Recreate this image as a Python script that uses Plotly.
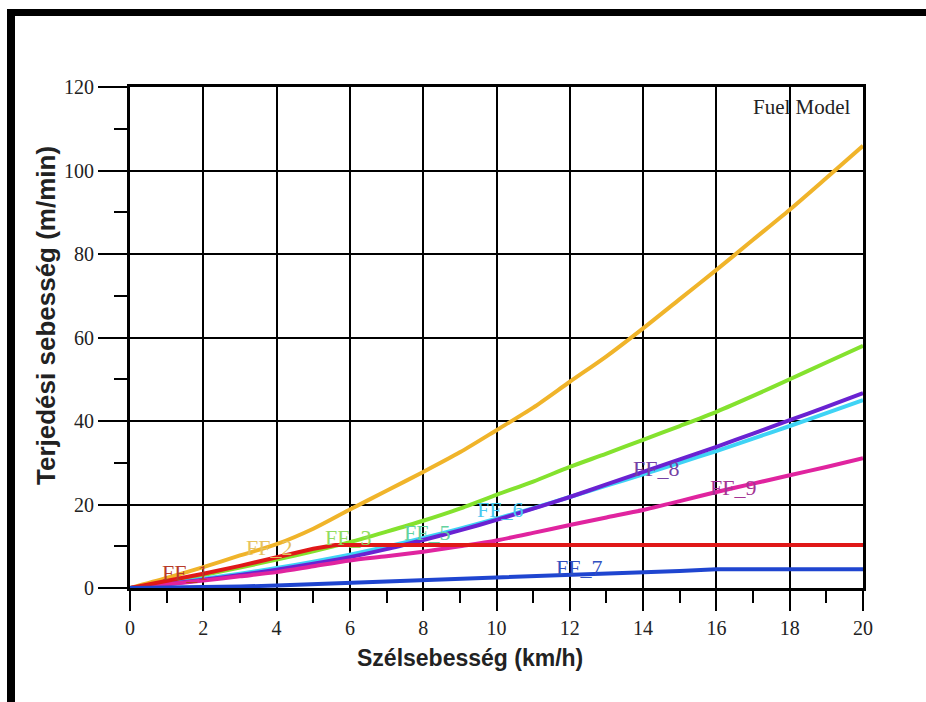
import plotly.graph_objects as go

# Wind speed (km/h) sample points
wind = list(range(0, 21))

# Spread rate (m/min) per fuel model
ff2 = [0, 2.4, 5.0, 7.8, 10.5, 14.2, 18.8, 23.3, 27.8, 32.5, 37.8, 43.2, 49.4,
       55.5, 62.2, 69.2, 76.2, 83.4, 90.6, 98.2, 105.9]
ff3 = [0, 1.4, 3.1, 4.9, 6.8, 8.8, 11.0, 13.5, 16.1, 19.0, 22.3, 25.5, 29.0,
       32.2, 35.5, 38.8, 42.2, 46.0, 50.0, 54.0, 58.0]
ff6 = [0, 1.0, 2.2, 3.4, 4.8, 6.3, 8.0, 9.9, 12.0, 14.2, 16.6, 19.1, 21.8,
       24.5, 27.2, 30.0, 32.8, 35.8, 38.8, 41.9, 45.0]
ff8 = [0, 0.9, 2.0, 3.1, 4.4, 5.8, 7.4, 9.3, 11.5, 13.8, 16.3, 19.0, 21.8,
       24.8, 27.8, 30.8, 33.8, 37.0, 40.2, 43.4, 46.7]
ff9 = [0, 0.9, 1.8, 2.8, 3.8, 5.2, 6.6, 7.6, 8.7, 10.0, 11.4, 13.2, 15.1,
       16.9, 18.7, 20.8, 23.0, 25.0, 27.0, 29.0, 31.1]
ff7 = [0, 0.05, 0.2, 0.35, 0.6, 0.9, 1.2, 1.5, 1.9, 2.2, 2.6, 2.85, 3.1,
       3.4, 3.75, 4.1, 4.5, 4.5, 4.5, 4.5, 4.5]
ff1_wind = [0, 1, 2, 3, 4, 5, 5.6, 20]
ff1 = [0, 1.6, 3.4, 5.3, 7.4, 9.4, 10.3, 10.3]

# In-plot labels: (text, x, y, colour)
labels = [
    ("FF_1", 1.5, 3.8, "#B83A28"),
    ("FF_2", 3.8, 9.8, "#E6C25E"),
    ("FF_3", 5.95, 12.0, "#92DC60"),
    ("FF_5", 8.1, 13.4, "#62D2A0"),
    ("FF_6", 10.1, 18.7, "#48C8F0"),
    ("FF_8", 14.35, 28.7, "#7440A4"),
    ("FF_9", 16.45, 24.0, "#A43494"),
    ("FF_7", 12.25, 5.0, "#3050C0"),
]

# (x, y, colour, smooth)
series = [
    (wind, ff2, "#F0B42A", True),
    (wind, ff3, "#84E22E", True),
    (wind, ff6, "#3FD3F5", True),
    (wind, ff8, "#6A22D2", True),
    (wind, ff9, "#E0249F", True),
    (ff1_wind, ff1, "#E01818", False),
    (wind, ff7, "#1F45D0", False),
]

fig = go.Figure()
for xs, ys, col, smooth in series:
    fig.add_trace(go.Scatter(x=xs, y=ys, mode="lines",
                             line=dict(color=col, width=4,
                                       shape="spline" if smooth else "linear",
                                       smoothing=0.8),
                             showlegend=False, hoverinfo="skip"))

for text, lx, ly, col in labels:
    fig.add_annotation(x=lx, y=ly, text=text, showarrow=False,
                       font=dict(family="Liberation Serif", size=22, color=col))

# plot area in pixels: left 130, right 863, top 87, bottom 588
L, R, T, B = 130, 863, 87, 588
W, H = R - L, B - T


def px(x):
    return (x - L) / W


def py(y):
    return (B - y) / H


fig.add_annotation(xref="paper", yref="paper", x=px(853), y=py(107),
                   xanchor="right", yanchor="middle", text="Fuel Model",
                   showarrow=False,
                   font=dict(family="Liberation Serif", size=21, color="#222"))

fig.add_annotation(xref="paper", yref="paper", x=px(470), y=py(658),
                   text="<b>Szélsebesség (km/h)</b>", showarrow=False,
                   font=dict(family="Liberation Sans", size=23, color="#222"),
                   xanchor="center", yanchor="middle")
fig.add_annotation(xref="paper", yref="paper", x=px(46), y=py(316),
                   text="<b>Terjedési sebesség (m/min)</b>", showarrow=False,
                   textangle=-90,
                   font=dict(family="Liberation Sans", size=26, color="#222"),
                   xanchor="center", yanchor="middle")

# outer black frame (top and left edges)
fig.add_shape(type="rect", xref="paper", yref="paper",
              x0=px(7), x1=px(926), y0=py(16), y1=py(9),
              fillcolor="black", line_width=0, layer="above")
fig.add_shape(type="rect", xref="paper", yref="paper",
              x0=px(7), x1=px(15), y0=py(702), y1=py(9),
              fillcolor="black", line_width=0, layer="above")

axis_common = dict(showline=True, linecolor="black", linewidth=3, mirror=True,
                   showgrid=True, gridcolor="black", gridwidth=1.5,
                   zeroline=False, ticks="outside", tickcolor="black",
                   tickwidth=2,
                   tickfont=dict(family="Liberation Serif", size=20,
                                 color="#222"))

fig.update_xaxes(range=[0, 20], dtick=2, tick0=0, ticklen=20,
                 minor=dict(dtick=1, ticklen=12, tickcolor="black",
                            tickwidth=2, ticks="outside", showgrid=False),
                 **axis_common)
fig.update_yaxes(range=[0, 120], dtick=20, tick0=0, ticklen=29,
                 minor=dict(dtick=10, ticklen=13, tickcolor="black",
                            tickwidth=2, ticks="outside", showgrid=False),
                 **axis_common)

fig.update_layout(width=926, height=702,
                  margin=dict(l=L, r=926 - R, t=T, b=702 - B),
                  paper_bgcolor="white", plot_bgcolor="white")

fig.write_html("out.html")
